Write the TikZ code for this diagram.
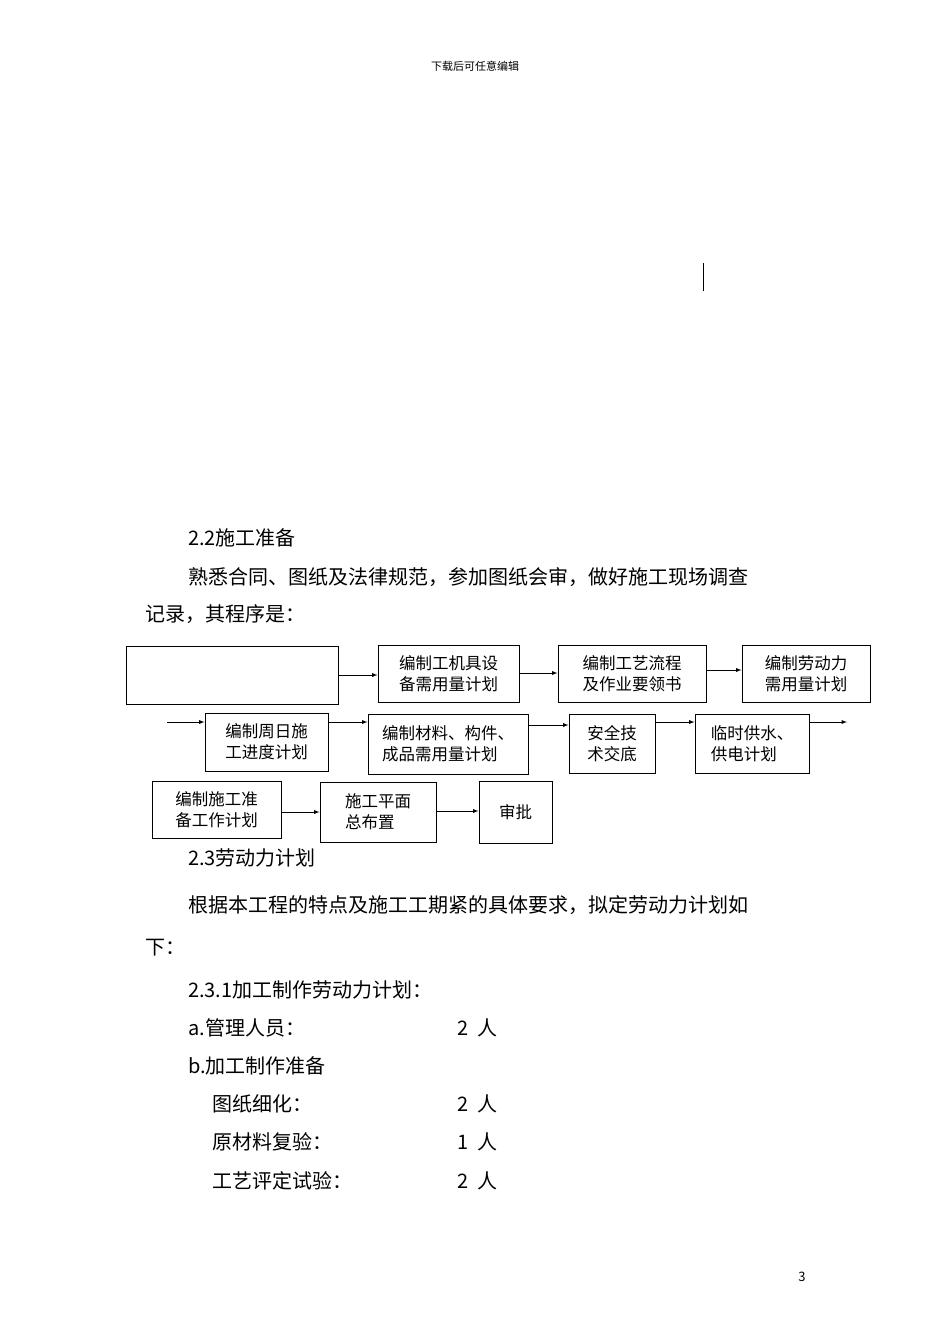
\documentclass[tikz,border=0pt]{standalone}
\usepackage{fontspec}
\setmainfont{Noto Sans CJK SC}
\begin{document}
\begin{tikzpicture}[x=1pt,y=-1pt,
  bx/.style={draw,line width=1pt,inner sep=0pt,font=\fontsize{16.5}{21}\selectfont,align=left},
  ar/.style={-latex,line width=0.9pt},
  tx/.style={anchor=west,inner sep=0pt,font=\fontsize{20}{24}\selectfont}]
\useasboundingbox (0,0) rectangle (950,1344);
\node[font=\fontsize{11}{13}\selectfont] (hd) at (475,66) {下载后可任意编辑};
\draw[line width=1pt] (703,263) -- (703,291);
\node[tx] (t1) at (188,538) {2.2施工准备};
\node[tx] (t2) at (188,577) {熟悉合同、图纸及法律规范，参加图纸会审，做好施工现场调查};
\node[tx] (t3) at (145,614) {记录，其程序是：};
% row 1
\node[bx,minimum width=212,minimum height=58] (b0) at (232,675) {};
\node[bx,minimum width=141,minimum height=57] (b1) at (448.5,673.5) {编制工机具设\\备需用量计划};
\node[bx,minimum width=148,minimum height=57] (b2) at (632,673.5) {编制工艺流程\\及作业要领书};
\node[bx,minimum width=128,minimum height=57] (b3) at (806,673.5) {编制劳动力\\需用量计划};
% row 2
\node[bx,minimum width=123,minimum height=58] (b4) at (266.5,742) {编制周日施\\工进度计划};
\node[bx,minimum width=160,minimum height=60] (b5) at (448,744) {编制材料、构件、\\成品需用量计划};
\node[bx,minimum width=86,minimum height=59] (b6) at (612,743.5) {安全技\\术交底};
\node[bx,minimum width=114,minimum height=59] (b7) at (752,743.5) {临时供水、\\供电计划};
% row 3
\node[bx,minimum width=129,minimum height=57] (b8) at (216.5,809.5) {编制施工准\\备工作计划};
\node[bx,minimum width=116,minimum height=60] (b9) at (378,812) {施工平面\\总布置};
\node[bx,minimum width=73,minimum height=62] (b10) at (515.5,812) {审批};
\coordinate (in2) at (167,722);
\coordinate (out2) at (847,722);
\draw[ar] (b0.east |- 0,675) -- (b1.west |- 0,675);
\draw[ar] (b1.east |- 0,673) -- (b2.west |- 0,673);
\draw[ar] (b2.east |- 0,670) -- (b3.west |- 0,670);
\draw[ar] (in2) -- (b4.west |- in2);
\draw[ar] (b4.east |- 0,722) -- (b5.west |- 0,722);
\draw[ar] (b5.east |- 0,725) -- (b6.west |- 0,725);
\draw[ar] (b6.east |- 0,722) -- (b7.west |- 0,722);
\draw[ar] (b7.east |- out2) -- (out2);
\draw[ar] (b8.east |- 0,812) -- (b9.west |- 0,812);
\draw[ar] (b9.east |- 0,811) -- (b10.west |- 0,811);
\node[tx] (t4) at (188,858) {2.3劳动力计划};
\node[tx] (t5) at (188,905) {根据本工程的特点及施工工期紧的具体要求，拟定劳动力计划如};
\node[tx] (t6) at (145,948) {下：};
\node[tx] (t7) at (188,990) {2.3.1加工制作劳动力计划：};
\node[tx] (t8) at (188,1028) {a.管理人员：};
\node[tx] (n8) at (457,1028) {2\ \ 人};
\node[tx] (t9) at (188,1066) {b.加工制作准备};
\node[tx] (t10) at (212,1104) {图纸细化：};
\node[tx] (n10) at (457,1104) {2\ \ 人};
\node[tx] (t11) at (212,1142) {原材料复验：};
\node[tx] (n11) at (457,1142) {1\ \ 人};
\node[tx] (t12) at (212,1181) {工艺评定试验：};
\node[tx] (n12) at (457,1181) {2\ \ 人};
\node[font=\fontsize{13}{15}\selectfont] (pg) at (802,1277) {3};
\end{tikzpicture}
\end{document}
